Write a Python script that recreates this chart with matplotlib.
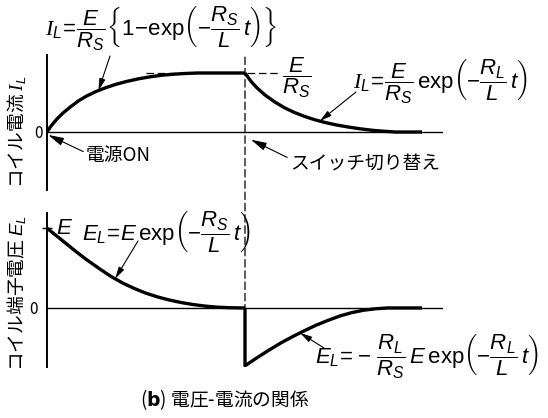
import numpy as np
import matplotlib
matplotlib.use("Agg")
import matplotlib.pyplot as plt
from matplotlib.patches import ConnectionPatch

plt.rcParams["font.family"] = ["Noto Sans CJK JP", "DejaVu Sans"]
plt.rcParams["mathtext.fontset"] = "custom"
plt.rcParams["mathtext.rm"] = "Liberation Sans"
plt.rcParams["mathtext.it"] = "Liberation Sans:italic"
plt.rcParams["mathtext.cal"] = "Liberation Serif:italic"

# ---- data (time in arbitrary units, switch at t = 5) ----
# coil current, normalised to E/R_S
t_rise = [0.0, 0.1, 0.25, 0.4, 0.6, 0.8, 1.0, 1.25, 1.5, 1.75, 2.0, 2.3, 2.6, 2.9,
          3.2, 3.5, 3.8, 5.0]
i_rise = [0.0, 0.10, 0.22, 0.32, 0.43, 0.53, 0.61, 0.69, 0.755, 0.81, 0.855, 0.90,
          0.935, 0.962, 0.98, 0.992, 1.0, 1.0]
t_fall = [5.0, 5.15, 5.3, 5.5, 5.75, 6.0, 6.25, 6.5, 6.75, 7.0, 7.3, 7.6, 7.9, 8.2,
          8.5, 8.8, 9.47]
i_fall = [1.0, 0.86, 0.75, 0.63, 0.51, 0.41, 0.33, 0.265, 0.21, 0.165, 0.12, 0.085,
          0.055, 0.03, 0.013, 0.0, 0.0]

# coil terminal voltage, normalised to E
t_v1 = [0.0, 0.25, 0.5, 0.75, 1.0, 1.3, 1.6, 1.9, 2.2, 2.5, 2.8, 3.1, 3.4, 3.7, 4.0,
        4.3, 4.6, 5.0]
v_v1 = [1.0, 0.90, 0.80, 0.70, 0.605, 0.50, 0.40, 0.315, 0.245, 0.185, 0.137, 0.098,
        0.067, 0.042, 0.023, 0.01, 0.003, 0.0]
t_v2 = [5.0, 5.0, 5.3, 5.6, 5.9, 6.2, 6.5, 6.8, 7.1, 7.4, 7.7, 8.0, 8.3, 8.6, 9.47]
v_v2 = [0.0, -0.725, -0.625, -0.53, -0.44, -0.36, -0.285, -0.215, -0.155, -0.10,
        -0.058, -0.028, -0.01, 0.0, 0.0]

W, H = 548, 418
fig = plt.figure(figsize=(W / 100, H / 100), dpi=100)

def fbox(x0, y0, x1, y1):
    return [x0 / W, 1 - y1 / H, (x1 - x0) / W, (y1 - y0) / H]

ax1 = fig.add_axes(fbox(47, 55, 443, 190))
ax2 = fig.add_axes(fbox(47, 213, 443, 367))
ax1.set_xlim(0, 10)
ax1.set_ylim(-0.983, 1.305)
ax2.set_xlim(0, 10)
ax2.set_ylim(-0.74, 1.19)

for ax in (ax1, ax2):
    for s in ("top", "right", "bottom"):
        ax.spines[s].set_visible(False)
    ax.spines["left"].set_linewidth(1.4)
    ax.set_xticks([])
    ax.patch.set_alpha(0)
    ax.axhline(0, color="black", lw=1.0, zorder=2)

ax1.set_yticks([0], labels=["0"])
ax1.tick_params(axis="y", length=0, pad=3, labelsize=11)
ax2.set_yticks([0, 1], labels=["0", ""])
ax2.tick_params(axis="y", length=7, width=1.0, direction="inout", pad=3, labelsize=11)
ax2.yaxis.get_major_ticks()[0].tick1line.set_markersize(0)

# curves
lw_c = 2.4
for ax, t, v in ((ax1, t_rise, i_rise), (ax1, t_fall, i_fall),
                 (ax2, t_v1, v_v1), (ax2, t_v2, v_v2)):
    ax.plot(t, v, color="black", lw=lw_c, solid_capstyle="butt",
            solid_joinstyle="round", zorder=3)

# guide lines
dash = (0, (6, 3))
ax1.hlines(1.0, 2.5, 5.9, colors="black", lw=0.9, linestyles=dash, zorder=1)
con = ConnectionPatch(xyA=(5.0, 1.27), coordsA=ax1.transData,
                      xyB=(5.0, 0.0), coordsB=ax2.transData,
                      color="black", lw=0.9, linestyle=dash, zorder=1)
fig.add_artist(con)

arrow = dict(arrowstyle="-|>,head_length=0.7,head_width=0.18", color="black",
             lw=0.8, shrinkA=0, shrinkB=0)
fs = 16     # formulas
fj = 13.5   # Japanese text

def py(y):
    return H - y

# top formulas
fig.text(45 / W, 1 - 29 / H,
         r"$\mathcal{I}_L\!=\!\dfrac{E}{R_S}\left\{1\!-\!\exp\!\left(-\dfrac{R_S}{L}\,t\right)\right\}$",
         ha="left", va="center", fontsize=fs)
ax1.annotate("", xy=(1.3, np.interp(1.3, t_rise, i_rise)), xycoords="data",
             xytext=(110, py(56)), textcoords="figure pixels", arrowprops=arrow)

fig.text(297 / W, 1 - 78 / H, r"$\dfrac{E}{R_S}$", ha="center", va="center", fontsize=fs)

ax1.annotate("", xy=(6.89, np.interp(6.89, t_fall, i_fall)), xycoords="data",
             xytext=(356, py(92)), textcoords="figure pixels", arrowprops=arrow)
fig.text(353 / W, 1 - 82 / H,
         r"$\mathcal{I}_L\!=\!\dfrac{E}{R_S}\,\exp\!\left(-\dfrac{R_L}{L}\,t\right)$",
         ha="left", va="center", fontsize=fs)

ax1.annotate("電源ON", xy=(0.03, -0.05), xycoords="data",
             xytext=(86, py(155)), textcoords="figure pixels",
             ha="left", va="center", fontsize=fj,
             arrowprops=dict(arrow, relpos=(0, 0.6)))
ax1.annotate("スイッチ切り替え", xy=(5.15, -0.13), xycoords="data",
             xytext=(290, py(163)), textcoords="figure pixels",
             ha="left", va="center", fontsize=fj,
             arrowprops=dict(arrow, relpos=(0, 0.7)))

# bottom formulas
fig.text(56 / W, 1 - 228 / H, r"$E$", ha="left", va="center", fontsize=fs)
fig.text(82 / W, 1 - 232 / H,
         r"$E_L\!=\!E\,\exp\!\left(-\dfrac{R_S}{L}\,t\right)$",
         ha="left", va="center", fontsize=fs)
ax2.annotate("", xy=(1.72, np.interp(1.72, t_v1, v_v1)), xycoords="data",
             xytext=(138, py(241)), textcoords="figure pixels", arrowprops=arrow)

fig.text(315 / W, 1 - 357 / H,
         r"$E_L\!=\!-\,\dfrac{R_L}{R_S}\,E\,\exp\!\left(-\dfrac{R_L}{L}\,t\right)$",
         ha="left", va="center", fontsize=fs)
ax2.annotate("", xy=(6.39, np.interp(6.39, t_v2[1:], v_v2[1:])), xycoords="data",
             xytext=(324, py(348)), textcoords="figure pixels", arrowprops=arrow)

# axis titles
fig.text(17 / W, 1 - 132 / H, r"コイル電流 $\mathcal{I}_L$", rotation=90,
         ha="center", va="center", fontsize=fj)
fig.text(17 / W, 1 - 293 / H, r"コイル端子電圧 $E_L$", rotation=90,
         ha="center", va="center", fontsize=fj)

# caption
fig.text(225 / W, 1 - 400 / H, r"($\mathbf{b}$) 電圧-電流の関係",
         ha="center", va="center", fontsize=fj)

fig.savefig("out.png", dpi=100)
